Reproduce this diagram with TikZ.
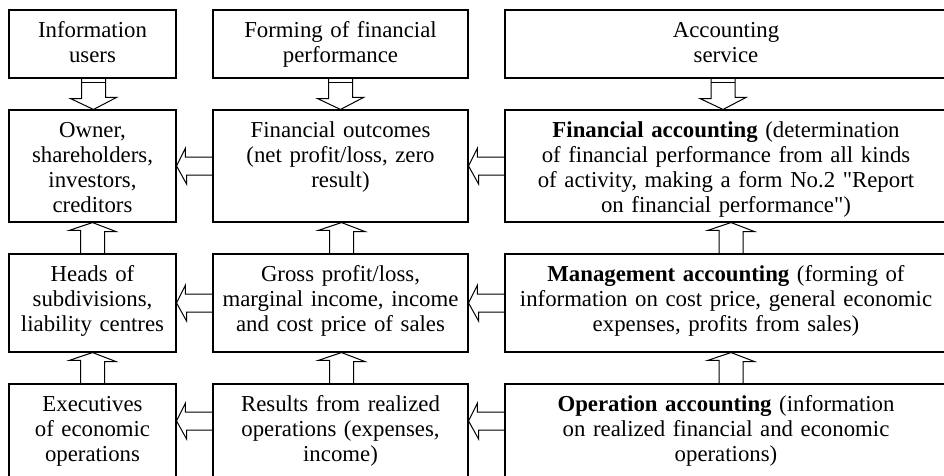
\documentclass[tikz,border=0pt]{standalone}
\usepackage{fontspec}
\setmainfont{Liberation Serif}[Ligatures=TeXOff]
\usetikzlibrary{positioning,calc}

% hollow block arrows between boxes
\newcommand{\downArr}[3][0pt]{%
  \draw[arr] ([xshift=#1]#2.south) ++(-12,0) -- ++(0,20) -- ++(-11,0) -- ([xshift=#1]#3.north) -- ++(23,-12) -- ++(-11,0) -- ++(0,-20);
  \draw[arr] ([xshift=#1,yshift=-3.5pt]#2.south) ++(-12,0) -- ++(24,0);}
\newcommand{\upArr}[3][0pt]{%
  \draw[arr] ([xshift=#1]#2.north) ++(-12,0) -- ++(0,-23) -- ++(-11.5,0) -- ([xshift=#1]#3.south) -- ++(23.5,9) -- ++(-11.5,0) -- ++(0,23);}
\newcommand{\leftArr}[3][0pt]{%
  \draw[arr] ([yshift=#1]#2.west) ++(0,-9) -- ++(-27,0) -- ++(0,-9) -- ([yshift=#1]#3.east) -- ++(10,18) -- ++(0,-9) -- ++(27,0);}

\begin{document}
\begin{tikzpicture}[x=1pt, y=-1pt,
        cell/.style={rectangle, draw, line width=1.1pt, inner sep=0pt},
        colA/.style={cell, minimum width=167pt},
        colB/.style={cell, minimum width=255pt},
        colC/.style={cell, minimum width=442pt},
        celltext/.style={anchor=north, inner sep=0pt, align=center,
            font=\fontsize{22.8}{25}\selectfont,
            execute at begin node={\rule{0pt}{28pt}}},
        arr/.style={line width=1pt, line join=miter}
    ]
        \useasboundingbox (0,0) rectangle (944,475);

        % boxes
        \node[colA, minimum height=68pt] (users) at (92.5,44) {};
        \node[colB, minimum height=68pt] (forming) at (340.5,44) {};
        \node[colC, minimum height=68pt] (service) at (726,44) {};

        \node[colA, minimum height=112pt] (owner) at (92.5,166) {};
        \node[colB, minimum height=112pt] (outcomes) at (340.5,166) {};
        \node[colC, minimum height=112pt] (finacc) at (726,166) {};

        \node[colA, minimum height=98pt] (heads) at (92.5,303) {};
        \node[colB, minimum height=98pt] (gross) at (340.5,303) {};
        \node[colC, minimum height=98pt] (mgmacc) at (726,303) {};

        \node[colA, minimum height=96pt] (execs) at (92.5,432) {};
        \node[colB, minimum height=96pt] (results) at (340.5,432) {};
        \node[colC, minimum height=96pt] (opacc) at (726,432) {};

        % texts
        \node[celltext, text width=200pt] (users-t) at (users.north) {Information\\users};
        \node[celltext, text width=300pt] (forming-t) at (forming.north) {Forming of financial\\performance};
        \node[celltext, text width=440pt] (service-t) at (service.north) {Accounting\\service};

        \node[celltext, text width=200pt] (owner-t) at (owner.north) {Owner,\\shareholders,\\investors,\\creditors};
        \node[celltext, text width=300pt] (outcomes-t) at (outcomes.north) {Financial outcomes\\(net profit/loss, zero\\result)};
        \node[celltext, text width=440pt] (finacc-t) at (finacc.north) {\textbf{Financial accounting} (determination\\of financial performance from all kinds\\of activity, making a form No.2 "Report\\on financial performance")};

        \node[celltext, text width=200pt] (heads-t) at (heads.north) {Heads of\\subdivisions,\\liability centres};
        \node[celltext, text width=300pt] (gross-t) at (gross.north) {Gross profit/loss,\\marginal income, income\\and cost price of sales};
        \node[celltext, text width=440pt] (mgmacc-t) at (mgmacc.north) {\textbf{Management accounting} (forming of\\information on cost price, general economic\\expenses, profits from sales)};

        \node[celltext, text width=200pt] (execs-t) at (execs.north) {Executives\\of economic\\operations};
        \node[celltext, text width=300pt] (results-t) at (results.north) {Results from realized\\operations (expenses,\\income)};
        \node[celltext, text width=440pt] (opacc-t) at (opacc.north) {\textbf{Operation accounting} (information\\on realized financial and economic\\operations)};

        % arrows down from the top row
        \downArr[1pt]{users}{owner}
        \downArr{forming}{outcomes}
        \downArr[-3pt]{service}{finacc}

        % arrows up
        \upArr{heads}{owner}
        \upArr[1pt]{gross}{outcomes}
        \upArr[5pt]{mgmacc}{finacc}
        \upArr{execs}{heads}
        \upArr[1pt]{results}{gross}
        \upArr[5pt]{opacc}{mgmacc}

        % arrows to the left
        \leftArr{outcomes}{owner}
        \leftArr{finacc}{outcomes}
        \leftArr{gross}{heads}
        \leftArr{mgmacc}{gross}
        \leftArr[11pt]{results}{execs}
        \leftArr[11pt]{opacc}{results}
    \end{tikzpicture}
\end{document}
